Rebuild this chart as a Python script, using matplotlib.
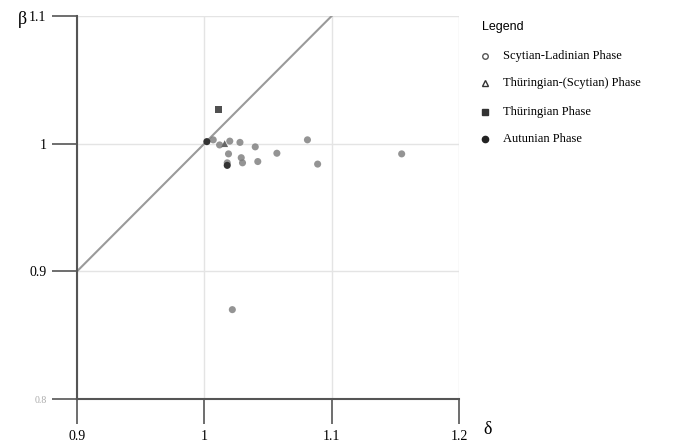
import matplotlib.pyplot as plt

# delta (x) and beta (y) per phase
scy_x = [1.007, 1.012, 1.020, 1.028, 1.040, 1.019, 1.029, 1.018, 1.030, 1.042, 1.057, 1.081, 1.089, 1.155, 1.022]
scy_y = [1.003, 0.999, 1.002, 1.001, 0.9975, 0.992, 0.989, 0.985, 0.985, 0.986, 0.9925, 1.003, 0.984, 0.992, 0.870]
thsc_x = [1.016]
thsc_y = [1.000]
thu_x = [1.011]
thu_y = [1.027]
aut_x = [1.002, 1.018]
aut_y = [1.0016, 0.983]

labels = ['Scytian-Ladinian Phase', 'Thüringian-(Scytian) Phase', 'Thüringian Phase', 'Autunian Phase']

plt.rcParams['font.family'] = ['Liberation Serif', 'DejaVu Serif']

fig = plt.figure(figsize=(6.88, 4.43), dpi=100)
ax = fig.add_axes([0.1119, 0.0993, 0.5552, 0.8646])

ax.plot([0.9, 1.1], [0.9, 1.1], color='#9a9a9a', lw=1.5, zorder=2)

ax.scatter(scy_x, scy_y, s=26, color='#7a7a7a', alpha=0.8, edgecolors='none', zorder=3)
ax.scatter(thsc_x, thsc_y, s=24, marker='^', color='#666666', edgecolors='none', zorder=3)
ax.scatter(thu_x, thu_y, s=24, marker='s', color='#505050', edgecolors='none', zorder=3)
ax.scatter(aut_x, aut_y, s=26, color='#333333', edgecolors='none', zorder=3)

ax.set_xlim(0.9, 1.2)
ax.set_ylim(0.8, 1.1)
ax.set_xticks([0.9, 1.0, 1.1, 1.2])
ax.set_xticklabels(['0.9', '1', '1.1', '1.2'], fontsize=10)
ax.set_yticks([0.8, 0.9, 1.0, 1.1])
ax.set_yticklabels(['0.8', '0.9', '1', '1.1'], fontsize=10)
ax.get_yticklabels()[0].set_fontsize(7)
ax.get_yticklabels()[0].set_color('#aaaaaa')
ax.tick_params(axis='both', length=18, width=1.2, color='#555555', direction='out', pad=4)
ax.grid(True, color='#e4e4e4', lw=1)
ax.set_axisbelow(True)
for s in ['top', 'right']:
    ax.spines[s].set_visible(False)
for s in ['left', 'bottom']:
    ax.spines[s].set_color('#555555')
    ax.spines[s].set_linewidth(1.5)

fig.text(0.032, 0.957, 'β', fontsize=13, ha='center', va='center')
fig.text(0.708, 0.03, 'δ', fontsize=13, ha='center', va='center')

# legend drawn by hand
fig.text(0.700, 0.938, 'Legend', fontsize=9, family='Liberation Sans', va='center')
lx = 0.705
ys = [0.873, 0.812, 0.747, 0.686]
fig.lines.append(plt.Line2D([lx], [ys[0]], marker='o', ms=4, mfc='white', mec='#555555', transform=fig.transFigure))
fig.lines.append(plt.Line2D([lx], [ys[1]], marker='^', ms=5, mfc='white', mec='#333333', transform=fig.transFigure))
fig.lines.append(plt.Line2D([lx], [ys[2]], marker='s', ms=4, mfc='#333333', mec='#333333', transform=fig.transFigure))
fig.lines.append(plt.Line2D([lx], [ys[3]], marker='o', ms=4.5, mfc='#222222', mec='#222222', transform=fig.transFigure))
for y, lab in zip(ys, labels):
    fig.text(0.731, y, lab, fontsize=9, va='center')

fig.savefig('out.png', dpi=100)
